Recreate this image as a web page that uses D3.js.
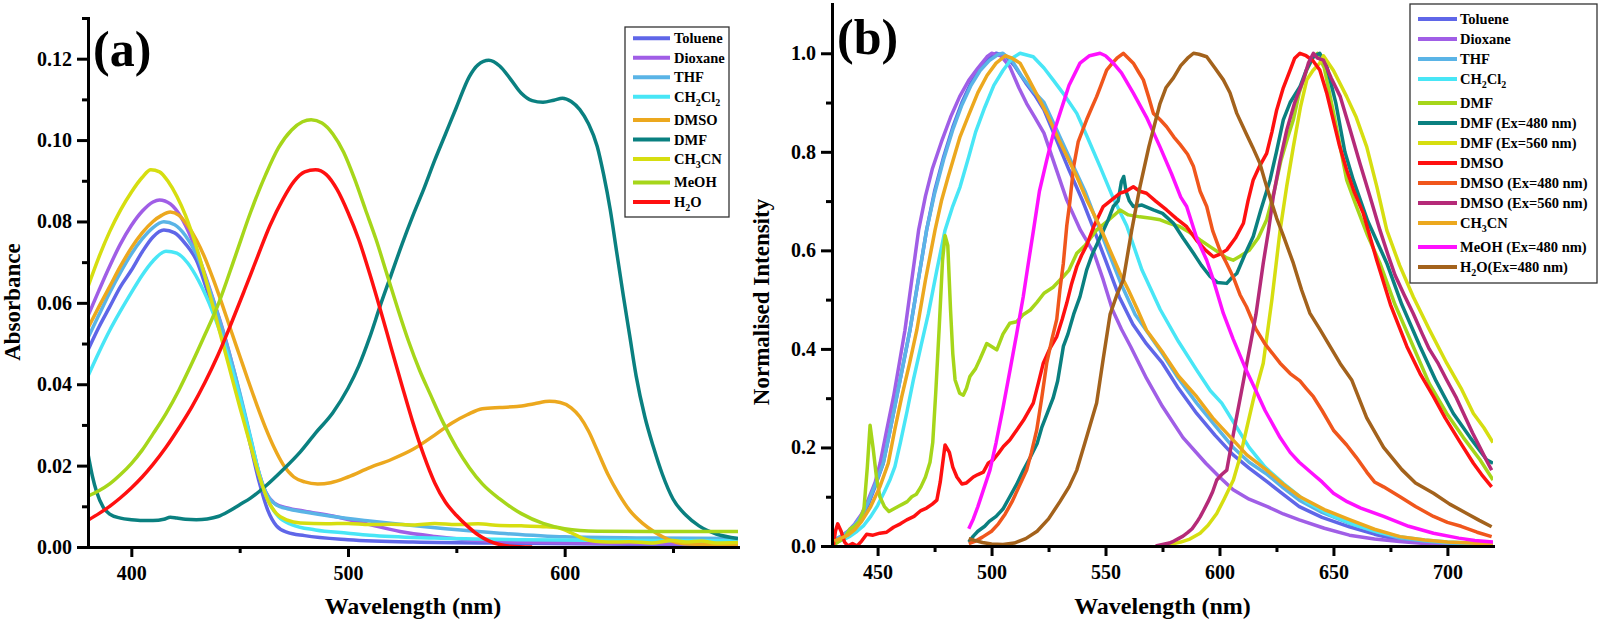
<!DOCTYPE html>
<html>
<head>
<meta charset="utf-8">
<script src="https://cdn.jsdelivr.net/npm/d3@7"></script>
<style>
  body { margin: 0; background: #fff; }
</style>
</head>
<body>
<div class="canvas"></div>
<script>
// ---------- Panel (a): absorbance, [wavelength nm, absorbance] ----------
const absToluene = [[380,.0484],[385,.054],[390,.059],[395,.064],[400,.068],[405,.0725],[410,.0762],[415,.0779],[420,.0772],[425,.0745],[430,.0705],[435,.063],[440,.0555],[445,.046],[450,.036],[455,.025],[459,.016],[463,.009],[467,.0052],[472,.0036],[480,.0028],[500,.0018],[530,.0012],[580,.0009],[630,.0007],[680,.0006]];
const absDioxane = [[380,.0568],[385,.063],[390,.069],[395,.0745],[400,.079],[405,.0825],[410,.0848],[413,.0853],[418,.0843],[423,.081],[428,.0755],[433,.0685],[438,.0605],[443,.052],[448,.042],[453,.031],[458,.02],[462,.0135],[466,.0108],[472,.0096],[480,.0088],[493,.0076],[510,.0055],[524,.0038],[540,.0026],[555,.0018],[580,.0012],[620,.0009],[680,.0007]];
const absTHF = [[380,.0514],[385,.057],[390,.0625],[395,.0675],[400,.072],[405,.0757],[410,.0785],[415,.0799],[420,.0792],[425,.0765],[430,.072],[435,.065],[440,.057],[445,.048],[450,.038],[455,.027],[459,.018],[463,.0125],[467,.0103],[472,.0094],[480,.0086],[493,.0075],[510,.0064],[524,.0056],[545,.0045],[570,.0034],[600,.0025],[640,.0022],[680,.0021]];
const absCH2Cl2 = [[380,.042],[385,.0478],[390,.0532],[395,.058],[400,.0625],[405,.0668],[410,.0703],[416,.0727],[421,.0722],[426,.0698],[431,.0655],[436,.0598],[441,.0528],[446,.0445],[451,.035],[456,.0245],[460,.016],[464,.0105],[468,.0074],[474,.0055],[485,.0042],[500,.0034],[510,.0029],[540,.0022],[580,.0018],[630,.0016],[680,.0015]];
const absDMSO = [[380,.0538],[385,.059],[390,.064],[395,.069],[400,.0735],[405,.0772],[410,.08],[414,.0815],[418,.0823],[422,.0815],[426,.079],[430,.0755],[434,.071],[438,.0655],[442,.0595],[446,.0532],[450,.047],[454,.0408],[458,.0348],[462,.0292],[466,.0243],[470,.0203],[475,.0172],[480,.016],[486,.0155],[492,.0158],[500,.0172],[510,.0195],[520,.0215],[530,.024],[540,.0275],[548,.0305],[555,.0325],[562,.034],[570,.0343],[578,.0345],[586,.0352],[593,.0358],[598,.0355],[603,.0342],[607,.032],[611,.0285],[615,.0238],[620,.0178],[625,.013],[630,.009],[636,.0058],[642,.0035],[648,.0018],[655,.0008],[665,.0006],[680,.0006]];
const absDMF = [[380,.0229],[382,.0175],[384,.0135],[387,.0098],[390,.0081],[395,.0071],[400,.0067],[405,.0065],[410,.0065],[415,.0068],[418,.0073],[421,.0071],[425,.0068],[430,.0067],[435,.0069],[440,.0075],[445,.0088],[450,.0104],[455,.012],[462,.015],[470,.019],[478,.0234],[485,.028],[493,.033],[500,.039],[505,.0445],[510,.0515],[515,.0595],[520,.067],[525,.0745],[530,.0815],[535,.088],[540,.095],[545,.1015],[550,.108],[556,.1156],[560,.1185],[565,.1196],[570,.1182],[575,.115],[580,.1115],[585,.1097],[590,.1093],[595,.1098],[599,.1103],[603,.1095],[607,.1075],[611,.104],[615,.0985],[618,.0915],[621,.083],[624,.0725],[627,.062],[630,.052],[633,.042],[637,.032],[641,.0245],[645,.018],[650,.0118],[656,.0078],[662,.0052],[670,.0032],[680,.0021]];
const absCH3CN = [[380,.064],[385,.0712],[390,.0775],[395,.0828],[400,.0872],[405,.0908],[409,.0927],[413,.0922],[417,.0898],[421,.0862],[425,.0815],[430,.0738],[435,.0645],[440,.0545],[445,.0445],[450,.0345],[455,.025],[459,.0175],[463,.0115],[467,.0082],[472,.0066],[478,.0059],[490,.0057],[500,.0058],[510,.0055],[520,.0056],[530,.0054],[540,.0058],[550,.0055],[560,.0057],[570,.0053],[580,.0052],[590,.005],[597,.0047],[603,.0035],[608,.0022],[614,.0014],[620,.0012],[630,.0013],[640,.001],[650,.0016],[656,.0012],[663,.0015],[670,.001],[680,.0011]];
const absMeOH = [[380,.0125],[385,.0138],[390,.0155],[395,.0178],[400,.0205],[405,.0238],[410,.0278],[416,.0328],[422,.0386],[428,.0452],[434,.0522],[440,.0595],[448,.0715],[455,.0822],[462,.0915],[468,.0982],[474,.1025],[479,.1045],[483,.105],[488,.1042],[493,.1015],[498,.097],[503,.0905],[508,.083],[513,.0755],[518,.067],[523,.0585],[528,.0505],[533,.0435],[538,.0375],[544,.0305],[550,.0245],[556,.0195],[562,.0155],[570,.0118],[580,.0082],[590,.0058],[600,.0045],[615,.0039],[640,.0038],[680,.0038]];
const absH2O = [[380,.0066],[385,.0082],[390,.01],[395,.0121],[400,.0145],[405,.0172],[410,.0203],[416,.0245],[422,.0293],[428,.0345],[434,.0405],[440,.0472],[446,.0548],[452,.0628],[458,.071],[464,.079],[470,.0855],[475,.0898],[480,.0922],[485,.0927],[490,.0915],[495,.0878],[500,.0822],[505,.0755],[510,.0672],[515,.0582],[520,.0488],[525,.0395],[530,.0305],[535,.0225],[540,.0158],[545,.011],[550,.0078],[555,.0052],[560,.003],[565,.0015],[570,.0006],[575,.0002],[585,0]];

const absNames = ["Toluene", "Dioxane", "THF", "CH_2Cl_2", "DMSO", "DMF", "CH_3CN", "MeOH", "H_2O"];
const absValues = [absToluene, absDioxane, absTHF, absCH2Cl2, absDMSO, absDMF, absCH3CN, absMeOH, absH2O];
const absXTicks = [400, 500, 600];
const absXMinor = [450, 550, 650];
const absYTicks = [0, 0.02, 0.04, 0.06, 0.08, 0.10, 0.12];
const absYMinor = [0.01, 0.03, 0.05, 0.07, 0.09, 0.11, 0.13];

// ---------- Panel (b): normalised emission, [wavelength nm, intensity] ----------
const emToluene = [[431,.01],[434,.018],[437,.027],[440,.04],[443,.058],[446,.085],[449,.122],[452.5,.168],[455.5,.235],[458.4,.303],[461.3,.37],[464.2,.438],[467.5,.53],[471.5,.641],[475,.72],[479,.79],[483,.85],[487,.9],[491,.94],[495,.97],[499,.99],[502,1.0],[506,.995],[510,.975],[515,.94],[519,.915],[523,.885],[528,.83],[534,.763],[540,.7],[545,.641],[550,.58],[556,.506],[562,.45],[568,.41],[575,.371],[582,.32],[590,.269],[598,.225],[606,.185],[613,.158],[621,.13],[628,.105],[635,.08],[645,.058],[657,.039],[668,.024],[679,.012],[690,.007],[700,.004],[710,.002],[720,.001]];
const emDioxane = [[431,.012],[434,.02],[437,.03],[440,.045],[443,.065],[446,.095],[449,.13],[451.1,.168],[454,.235],[457,.303],[459.5,.37],[462,.438],[465,.54],[468,.641],[471,.71],[474,.765],[478,.82],[482,.87],[486,.912],[490,.945],[494,.97],[498,.993],[500,1.0],[504,.995],[508,.973],[512,.93],[515.4,.898],[519,.87],[523,.838],[528,.77],[533,.702],[539,.641],[545,.594],[549,.54],[553,.48],[557,.44],[561,.405],[568,.34],[575,.283],[584,.22],[594,.168],[600,.14],[606,.114],[613,.095],[621,.08],[628,.065],[635,.053],[646,.036],[657,.022],[668,.014],[679,.009],[690,.005],[700,.003],[710,.002],[720,.001]];
const emTHF = [[431,.012],[434,.02],[437,.029],[440,.043],[443,.062],[446,.09],[449,.125],[452.5,.168],[455.5,.235],[458.4,.303],[461.3,.37],[464.2,.438],[467.5,.53],[471.5,.641],[475,.715],[479,.785],[483,.845],[487,.895],[491,.935],[495,.965],[499,.985],[503,.998],[505,1.0],[509,.985],[513,.955],[518,.925],[523,.9],[529,.84],[535,.78],[541,.72],[546,.66],[551,.6],[557,.53],[563,.47],[569,.43],[575,.39],[582,.34],[590,.29],[598,.245],[606,.2],[613,.17],[621,.145],[628,.118],[635,.093],[645,.068],[657,.046],[668,.03],[679,.016],[690,.01],[700,.006],[710,.004],[720,.003]];
const emCH2Cl2 = [[432,.008],[435,.013],[438,.02],[441,.03],[444,.042],[447,.06],[450,.082],[453,.11],[455.5,.135],[457.6,.161],[460,.21],[463,.275],[465.7,.337],[469,.405],[472.3,.472],[476,.56],[479.6,.641],[483,.69],[486.2,.729],[490,.79],[493,.84],[497,.89],[501,.935],[505,.965],[509,.99],[512.5,1.0],[518.3,.993],[523,.97],[527,.946],[532,.915],[537.4,.878],[542,.83],[547.6,.77],[553,.71],[559.3,.65],[566,.56],[574,.48],[582,.415],[590,.357],[596,.315],[601,.29],[607,.245],[613,.2],[620,.16],[628,.127],[638,.09],[650,.06],[660,.042],[670,.028],[679,.019],[690,.012],[700,.008],[710,.006],[720,.004]];
const emDMF = [[430,0],[432,.006],[434,.012],[436,.02],[438,.035],[440,.04],[442,.05],[444,.075],[445.5,.16],[446.7,.245],[448,.2],[449.5,.14],[451,.1],[453,.08],[455,.07],[457,.075],[459,.08],[461,.085],[463,.09],[465,.1],[467,.105],[469,.12],[471,.14],[473,.17],[474.2,.21],[475.5,.31],[477,.44],[478.5,.58],[479.6,.63],[480.8,.61],[482,.48],[483,.39],[484,.337],[486,.31],[487.6,.306],[489,.32],[490.5,.344],[493,.36],[495,.38],[497.9,.411],[500,.405],[502.3,.398],[505,.43],[508,.452],[511,.455],[514,.47],[517,.479],[520,.495],[523,.513],[527,.525],[531.5,.547],[534,.56],[537.4,.594],[541,.61],[546,.641],[551,.66],[556.4,.682],[560,.672],[565,.668],[570,.665],[574,.662],[578,.655],[582.7,.648],[587,.636],[591.5,.621],[596,.607],[600.2,.594],[603,.585],[606,.58],[609,.588],[613,.6],[617,.625],[620.7,.662],[624,.72],[627,.783],[630,.83],[632.4,.865],[635,.92],[638.3,.966],[641.2,.993],[643,1.0],[646,.97],[650,.88],[655.8,.743],[660,.69],[665,.63],[670.4,.574],[677,.49],[685,.405],[692,.33],[699.7,.269],[707,.22],[714.3,.175],[720,.134]];
const emDMF480 = [[490,.008],[492,.02],[494,.03],[497,.04],[499,.05],[502,.06],[505,.075],[508,.1],[511,.125],[514,.154],[517,.18],[520,.208],[522,.24],[524.5,.27],[527,.3],[529,.335],[531.5,.405],[533.5,.43],[536,.47],[538.8,.506],[541.7,.56],[544,.59],[546.5,.615],[549,.64],[551,.66],[553.4,.689],[555.5,.7],[557,.74],[558,.75],[559,.72],[560.5,.7],[562.2,.689],[566,.692],[571,.682],[575,.675],[579.8,.655],[584,.625],[588.6,.594],[592,.57],[595.9,.547],[599,.535],[603.2,.533],[605.5,.545],[607.6,.553],[611,.59],[614.8,.628],[618,.68],[622.2,.743],[625,.8],[628,.865],[631,.9],[635.3,.932],[638,.965],[641.2,.993],[644,1.0],[647,.975],[651,.9],[655,.8],[658.7,.743],[665,.66],[673.4,.574],[680,.49],[688,.405],[695,.335],[702.6,.269],[710,.22],[717.2,.175],[720,.168]];
const emDMF560 = [[575,0],[579,.004],[583,.008],[587,.014],[591.5,.026],[595,.042],[598.8,.066],[602,.095],[606.1,.134],[609,.18],[612,.24],[615,.3],[619.2,.371],[623,.5],[626.6,.641],[629.5,.73],[632.4,.81],[635.5,.89],[638.3,.946],[641,.965],[644,.98],[645.6,.995],[650,.965],[655.8,.912],[660,.87],[664.6,.81],[669,.73],[673.4,.641],[679,.57],[685,.506],[692,.44],[699.7,.371],[706,.32],[711.4,.269],[716,.24],[720,.21]];
const emDMSO = [[430.6,0],[431.5,.03],[432.5,.045],[434,.03],[435.5,.008],[437,0],[439,.005],[441,0],[443,.01],[445.2,.024],[448,.022],[451,.026],[454,.028],[457,.038],[460,.045],[462.8,.053],[466,.06],[469,.072],[471.5,.077],[474,.085],[476,.093],[477.5,.13],[479.6,.205],[481.5,.19],[483,.16],[484.8,.14],[487,.126],[489,.128],[492,.14],[494,.145],[496.4,.15],[498.5,.168],[500.8,.175],[503,.188],[505.2,.202],[508,.215],[511,.235],[514,.255],[518.3,.29],[520.5,.33],[522.7,.371],[525.5,.4],[528.6,.425],[531,.46],[533,.493],[535,.53],[537.4,.567],[539.5,.59],[541.7,.61],[545,.65],[549,.689],[552,.7],[556.4,.716],[559,.72],[562.2,.729],[565,.72],[568,.716],[572,.7],[576.8,.682],[581,.665],[585.6,.648],[590,.62],[594,.6],[597.3,.587],[600,.592],[603.2,.601],[607,.625],[610.5,.655],[612.5,.7],[614.8,.743],[617.5,.77],[620.7,.797],[623,.84],[625.1,.885],[628,.93],[631,.966],[633,.99],[635.3,1.0],[638,.995],[641,.985],[644,.966],[647,.92],[649.9,.865],[652.5,.815],[655.8,.763],[659,.72],[663.1,.675],[669,.58],[675,.49],[682.2,.405],[688,.35],[693.9,.303],[699,.26],[705,.215],[711.4,.168],[715,.145],[719.4,.12]];
const emDMSO480 = [[490,.005],[493,.01],[496,.018],[500,.03],[503,.045],[506,.065],[509,.09],[512,.12],[515.4,.154],[517.5,.19],[519.8,.235],[522,.3],[524.2,.371],[526.5,.42],[528.6,.46],[530,.52],[531.5,.574],[533,.65],[534.4,.7],[536,.77],[538,.82],[541.7,.865],[544,.89],[546.1,.912],[548,.935],[550.5,.966],[553,.98],[555,.99],[557.8,1.0],[560,.99],[562.2,.98],[564.5,.962],[566.6,.946],[569,.91],[571,.878],[574,.865],[576.8,.851],[580,.83],[582.7,.815],[586,.795],[588.6,.77],[591.5,.72],[594.4,.689],[597,.64],[600.2,.6],[603,.575],[606.1,.545],[609,.51],[611.9,.485],[616,.44],[620,.41],[626.6,.371],[631,.35],[635.3,.335],[638,.32],[641.2,.303],[645,.275],[650,.235],[655.8,.205],[660,.18],[664.6,.15],[668,.13],[672,.12],[679.2,.1],[686,.08],[693.9,.06],[700,.048],[706,.04],[713,.028],[719.4,.019]];
const emDMSO560 = [[572,0],[574,.002],[576,.004],[578,.006],[580,.01],[582,.015],[584,.02],[586,.027],[588,.035],[590,.048],[591.5,.059],[593,.072],[595,.09],[597,.11],[598.8,.134],[601,.145],[603.2,.154],[605,.2],[607,.25],[609.5,.31],[612,.371],[614,.42],[616,.47],[619.2,.574],[621.5,.64],[623.6,.709],[626.5,.78],[629.5,.844],[633,.9],[636.8,.946],[639,.98],[641.2,1.0],[643,.99],[645.6,.986],[649,.95],[653,.912],[657,.85],[661.6,.777],[666,.71],[670.4,.641],[674,.59],[677,.55],[681,.51],[685,.472],[689,.43],[692,.4],[696,.37],[699.7,.337],[704,.3],[708,.26],[711,.23],[714.3,.2],[717,.175],[719.4,.154]];
const emCH3CN = [[431,.01],[434,.016],[437,.022],[440,.033],[443,.05],[447,.08],[451,.12],[454.7,.168],[457.5,.235],[460.6,.303],[464,.37],[467.2,.438],[471,.54],[475.2,.641],[478,.7],[481,.75],[486.2,.831],[490,.875],[494,.92],[498,.955],[502,.98],[506,.995],[509,.99],[512.5,.98],[516,.95],[520,.915],[524.2,.878],[530,.82],[537.4,.75],[542,.7],[547.6,.648],[552,.6],[556.4,.553],[560,.52],[564,.48],[568,.438],[575.4,.391],[582,.345],[590,.303],[597,.26],[604.6,.222],[612,.185],[620.7,.154],[628,.125],[635.3,.1],[646,.074],[657.3,.053],[668,.034],[679.2,.019],[690,.012],[700,.008],[710,.006],[720,.004]];
const emMeOH = [[490,.035],[492,.055],[494,.08],[496.5,.115],[499.3,.154],[502,.21],[505,.28],[508.1,.357],[511,.43],[513.9,.506],[516,.57],[518.3,.638],[521,.72],[524.2,.783],[527,.835],[530,.878],[534,.935],[538.8,.98],[543,.995],[547.6,1.0],[550,.995],[553.4,.98],[557,.96],[562.2,.919],[568,.87],[573.9,.81],[579,.755],[583,.708],[585.6,.689],[590,.625],[594.4,.58],[597.3,.54],[601.7,.472],[606,.42],[611.9,.355],[616,.315],[620,.275],[626.6,.22],[631,.19],[635,.17],[641.2,.145],[645,.13],[650,.107],[656,.09],[662,.077],[672,.06],[683,.04],[693.9,.026],[705,.016],[712,.011],[720,.008]];
const emH2O = [[490,.015],[493,.011],[496,.007],[500,.004],[505,.003],[510,.006],[515,.015],[520,.03],[525,.055],[530,.09],[534,.12],[537.4,.154],[541,.21],[546.1,.29],[549,.38],[552,.47],[555,.51],[557.8,.54],[561.5,.641],[565.1,.729],[569,.81],[573.9,.898],[576.5,.93],[579.8,.95],[583,.975],[586,.99],[588.6,1.0],[591,.998],[594.4,.993],[598,.97],[601.7,.946],[604.6,.92],[607.6,.878],[611.9,.835],[614.5,.81],[617.7,.777],[620,.74],[622,.71],[625.1,.665],[628,.63],[632.4,.574],[636,.52],[639.7,.472],[644,.44],[648.5,.405],[653,.37],[658,.337],[664.6,.26],[672,.2],[680,.155],[686,.128],[693.9,.107],[701,.085],[708.5,.066],[714,.052],[719.4,.039]];

const emNames = ["Toluene", "Dioxane", "THF", "CH_2Cl_2", "DMF", "DMF (Ex=480 nm)", "DMF (Ex=560 nm)", "DMSO", "DMSO (Ex=480 nm)", "DMSO (Ex=560 nm)", "CH_3CN", "MeOH (Ex=480 nm)", "H_2O(Ex=480 nm)"];
const emValues = [emToluene, emDioxane, emTHF, emCH2Cl2, emDMF, emDMF480, emDMF560, emDMSO, emDMSO480, emDMSO560, emCH3CN, emMeOH, emH2O];
const emXTicks = [450, 500, 550, 600, 650, 700];
const emXMinor = [475, 525, 575, 625, 675];
const emYTicks = [0, 0.2, 0.4, 0.6, 0.8, 1.0];
const emYMinor = [0.1, 0.3, 0.5, 0.7, 0.9];

// ---------- styling ----------
const absColours = ["#5f66e8", "#a05ee6", "#5ab4e6", "#48e6f6", "#eca81e", "#0a8080", "#d6de10", "#a6d61a", "#ff1010"];
const emColours = ["#5f66e8", "#a05ee6", "#5ab4e6", "#48e6f6", "#a6d61a", "#0a8080", "#d6de10", "#ff1010", "#f0561c", "#b52a78", "#eca81e", "#ff10ff", "#a3621c"];
const serif = "'Liberation Serif','Times New Roman',serif";

const svg = d3.select(".canvas")
  .append("svg")
  .attr("width", 1600)
  .attr("height", 626)
  .style("display", "block");

// write "CH_2Cl_2" style labels with real subscripts
const richText = (sel, label, subSize, shift) => {
  const parts = label.split(/_(\d)/);
  parts.forEach((p, i) => {
    if (p === "") return;
    const t = sel.append("tspan").text(p);
    if (i % 2 === 1) {
      t.attr("font-size", subSize).attr("dy", shift);
    } else if (i > 0) {
      t.attr("dy", -shift);
    }
  });
};

const styleAxis = (g) => {
  g.selectAll("path.domain").attr("stroke", "#000").attr("stroke-width", 3).attr("stroke-linecap", "square");
  g.selectAll(".tick line").attr("stroke", "#000").attr("stroke-width", 3);
  g.attr("font-family", serif).attr("font-size", 20).attr("font-weight", "bold");
  g.selectAll("text").attr("fill", "#000");
};

const drawPanel = (p) => {
  const x = d3.scaleLinear().domain(p.xDomain).range(p.xRange);
  const y = d3.scaleLinear().domain(p.yDomain).range(p.yRange);
  const graph = svg.append("g");

  graph.append("clipPath").attr("id", p.id + "-clip")
    .append("rect")
    .attr("x", p.xRange[0]).attr("y", p.yRange[1])
    .attr("width", p.xRange[1] - p.xRange[0])
    .attr("height", p.yRange[0] - p.yRange[1]);

  const line = d3.line()
    .x((d) => x(d[0]))
    .y((d) => y(d[1]))
    .curve(p.curve);

  graph.append("g")
    .attr("clip-path", `url(#${p.id}-clip)`)
    .selectAll("path")
    .data(p.values)
    .join("path")
    .attr("d", line)
    .attr("fill", "none")
    .attr("stroke", (d, i) => p.colours[i])
    .attr("stroke-width", 3.5)
    .attr("stroke-linejoin", "round");

  // minor ticks first, then major axes on top
  graph.append("g")
    .attr("transform", `translate(0,${p.yRange[0]})`)
    .call(d3.axisBottom(x).tickValues(p.xMinor).tickSize(6).tickSizeOuter(0).tickFormat(""))
    .call(styleAxis);
  graph.append("g")
    .attr("transform", `translate(${p.xRange[0]},0)`)
    .call(d3.axisLeft(y).tickValues(p.yMinor.filter((v) => v <= p.yDomain[1])).tickSize(6).tickSizeOuter(0).tickFormat(""))
    .call(styleAxis);
  graph.append("g")
    .attr("transform", `translate(0,${p.yRange[0]})`)
    .call(d3.axisBottom(x).tickValues(p.xTicks).tickSize(10).tickSizeOuter(0).tickPadding(9).tickFormat(d3.format("d")))
    .call(styleAxis);
  graph.append("g")
    .attr("transform", `translate(${p.xRange[0]},0)`)
    .call(d3.axisLeft(y).tickValues(p.yTicks).tickSize(11).tickSizeOuter(0).tickPadding(5).tickFormat(d3.format(p.yFormat)))
    .call(styleAxis);

  // axis titles and panel tag
  graph.append("text")
    .attr("x", (p.xRange[0] + p.xRange[1]) / 2)
    .attr("y", 614)
    .attr("text-anchor", "middle")
    .attr("font-family", serif).attr("font-weight", "bold").attr("font-size", 24)
    .text("Wavelength (nm)");
  graph.append("text")
    .attr("transform", `translate(${p.yTitleX},302) rotate(-90)`)
    .attr("text-anchor", "middle")
    .attr("font-family", serif).attr("font-weight", "bold").attr("font-size", 23)
    .text(p.yTitle);
  graph.append("text")
    .attr("x", p.tag[0]).attr("y", p.tag[1])
    .attr("font-family", serif).attr("font-weight", "bold").attr("font-size", 50)
    .text(p.tagText);

  // legend
  const lg = p.legend;
  const legendGroup = graph.append("g");
  legendGroup.append("rect")
    .attr("x", lg.box[0]).attr("y", lg.box[1])
    .attr("width", lg.box[2] - lg.box[0]).attr("height", lg.box[3] - lg.box[1])
    .attr("fill", "#fff").attr("stroke", "#333").attr("stroke-width", 1.3);
  let yy = lg.y0;
  p.names.forEach((name, i) => {
    legendGroup.append("line")
      .attr("x1", lg.x1).attr("x2", lg.x2).attr("y1", yy).attr("y2", yy)
      .attr("stroke", p.colours[i]).attr("stroke-width", 4);
    const t = legendGroup.append("text")
      .attr("x", lg.tx).attr("y", yy + 5)
      .attr("font-family", serif).attr("font-weight", "bold").attr("font-size", 14.5);
    richText(t, name, 10, 4);
    yy += lg.step + (name.includes("_") ? lg.extra : 0);
  });
};

drawPanel({
  id: "abs",
  xDomain: [380, 680], xRange: [88, 738],
  yDomain: [0, 0.13], yRange: [547, 18],
  values: absValues, colours: absColours, names: absNames,
  curve: d3.curveMonotoneX,
  xTicks: absXTicks, xMinor: absXMinor, yTicks: absYTicks, yMinor: absYMinor,
  yFormat: ".2f",
  yTitle: "Absorbance", yTitleX: 20,
  tag: [93, 66], tagText: "(a)",
  legend: { box: [625, 27, 729, 217], x1: 633, x2: 670, tx: 674, y0: 38.3, step: 19.5, extra: 3.8 }
});

drawPanel({
  id: "em",
  xDomain: [430, 720], xRange: [832, 1493],
  yDomain: [0, 1.1], yRange: [546, 4],
  values: emValues, colours: emColours, names: emNames,
  curve: d3.curveLinear,
  xTicks: emXTicks, xMinor: emXMinor, yTicks: emYTicks, yMinor: emYMinor,
  yFormat: ".1f",
  yTitle: "Normalised Intensity", yTitleX: 769,
  tag: [837, 54], tagText: "(b)",
  legend: { box: [1410, 4, 1597, 283], x1: 1418, x2: 1457, tx: 1460, y0: 19, step: 20, extra: 4 }
});
</script>
</body>
</html>
